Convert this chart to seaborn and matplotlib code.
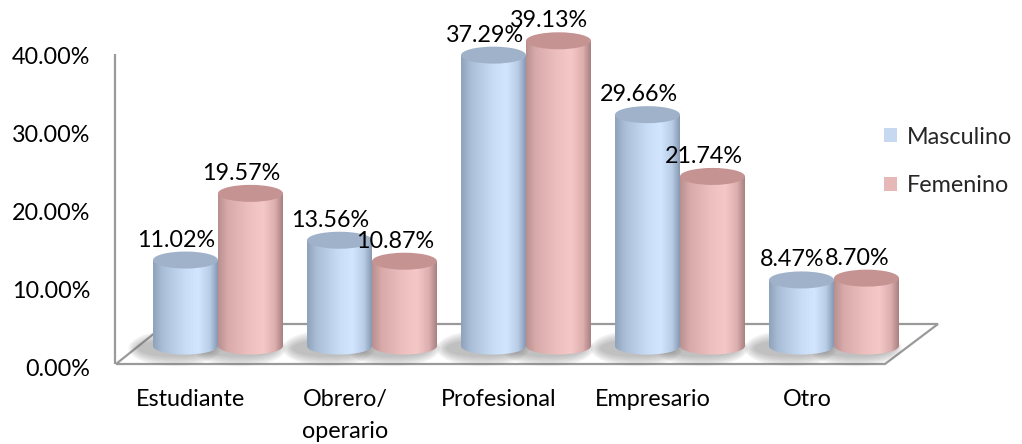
import numpy as np
import pandas as pd
import matplotlib
matplotlib.use("Agg")
import matplotlib.pyplot as plt
import seaborn as sns
from matplotlib.patches import Ellipse, Polygon, Patch
from matplotlib.colors import LinearSegmentedColormap
from matplotlib.transforms import ScaledTranslation, blended_transform_factory

# ---- data -------------------------------------------------------------
ocupaciones = ["Estudiante", "Obrero/\noperario", "Profesional", "Empresario", "Otro"]
sexos = ["Masculino", "Femenino"]
masculino = [11.02, 13.56, 37.29, 29.66, 8.47]
femenino = [19.57, 10.87, 39.13, 21.74, 8.70]
y_ticks = [0, 10, 20, 30, 40]

df = pd.DataFrame({
    "Ocupación": ocupaciones * 2,
    "Sexo": [sexos[0]] * len(ocupaciones) + [sexos[1]] * len(ocupaciones),
    "Porcentaje": masculino + femenino,
})

# ---- style ------------------------------------------------------------
sns.set_theme(style="white")
plt.rcParams["font.family"] = ["Lato", "DejaVu Sans"]
FS = 16.8

W, H, DPI = 1022, 444, 100
fig = plt.figure(figsize=(W / DPI, H / DPI), dpi=DPI)
ax = fig.add_axes([0, 0, 1, 1])

legend_colors = {"Masculino": "#c6d9f1", "Femenino": "#e6b9b8"}
body_cmaps = {
    "Masculino": LinearSegmentedColormap.from_list("m", [
        (0.0, "#8ea2bc"), (0.15, "#aabed8"), (0.5, "#c9ddf6"),
        (0.7, "#d2e6ff"), (0.88, "#b8cce6"), (1.0, "#8799b2")]),
    "Femenino": LinearSegmentedColormap.from_list("f", [
        (0.0, "#b88f8f"), (0.15, "#d9aaaa"), (0.5, "#efc0c0"),
        (0.7, "#f5c8c8"), (0.88, "#dcaeae"), (1.0, "#a88080")]),
}
top_colors = {"Masculino": "#9fb2ca", "Femenino": "#c69393"}

sns.barplot(data=df, x="Ocupación", y="Porcentaje", hue="Sexo",
            order=ocupaciones, hue_order=sexos, palette=legend_colors,
            width=0.844, ax=ax, legend=False, saturation=1)
bars = [(sexo, bar) for sexo, cont in zip(sexos, ax.containers) for bar in cont]

# pixel geometry of the plotting area
X0_PX, CAT_PX, BASE_PY, PCT_PX = 218, 154, 346, 7.8


def set_limits():
    ax.set_xlim(-X0_PX / CAT_PX, (W - X0_PX) / CAT_PX)
    ax.set_ylim((BASE_PY - H) / PCT_PX, BASE_PY / PCT_PX)


set_limits()
ax.axis("off")


def px(xp, yp):
    return ((xp - X0_PX) / CAT_PX, (BASE_PY - yp) / PCT_PX)


# floor and left wall edge
floor = Polygon([px(116, 364), px(885, 364), px(938, 324), px(166, 324)],
                closed=True, facecolor="white", edgecolor="#9a9a9a",
                linewidth=1.6, zorder=0.5)
ax.add_patch(floor)
wall_x, wall_y0 = px(115, 364)
_, wall_y1 = px(115, 54)
ax.plot([wall_x, wall_x], [wall_y0, wall_y1], color="#9a9a9a", lw=1.6,
        zorder=0.6, solid_capstyle="butt")

ell_h = 17 / PCT_PX
grad = np.linspace(0, 1, 256).reshape(1, -1)
for sexo, bar in bars:
    x0, w, h = bar.get_x(), bar.get_width(), bar.get_height()
    cx = x0 + w / 2
    bar.set_facecolor("none")
    bar.set_edgecolor("none")

    # soft shadow on the floor
    for k in range(6):
        ax.add_patch(Ellipse((cx - 0.07, -0.3), w * (1.12 + 0.06 * k),
                             ell_h * (1.0 + 0.22 * k), facecolor="#707070",
                             edgecolor="none", alpha=0.09, zorder=0.7))

    # cylinder body
    im = ax.imshow(grad, cmap=body_cmaps[sexo], extent=[x0, x0 + w, 0, h],
                   aspect="auto", interpolation="bilinear", zorder=2, origin="lower")
    im.set_clip_path(bar)
    # rounded base
    base = Ellipse((cx, 0), w, ell_h, facecolor="none", edgecolor="none")
    ax.add_patch(base)
    im2 = ax.imshow(grad, cmap=body_cmaps[sexo],
                    extent=[x0, x0 + w, -ell_h, 0.01], aspect="auto",
                    interpolation="bilinear", zorder=2, origin="lower")
    im2.set_clip_path(base)
    # top cap
    ax.add_patch(Ellipse((cx, h), w, ell_h, facecolor=top_colors[sexo],
                         edgecolor="none", zorder=3))
    # value label
    ax.annotate(f"{h:.2f}%", (cx, h), xytext=(-9, 20), textcoords="offset pixels",
                ha="center", va="center", fontsize=FS, color="black", zorder=5)

set_limits()

# y tick labels (front plane of the box)
ytrans = blended_transform_factory(fig.transFigure, ax.transData) + \
    ScaledTranslation(0, -24 / DPI, fig.dpi_scale_trans)
for t in y_ticks:
    ax.text(90 / W, t, f"{t:.2f}%", transform=ytrans, ha="right", va="center",
            fontsize=FS, color="black")

# category labels
xtrans = blended_transform_factory(ax.transData, fig.transFigure) + \
    ScaledTranslation(-27 / DPI, 0, fig.dpi_scale_trans)
for i, lab in enumerate(ocupaciones):
    ax.text(i, 1 - 389 / H, lab, transform=xtrans, ha="center", va="top",
            fontsize=FS, color="black", linespacing=1.62, multialignment="center")

handles = [Patch(facecolor=legend_colors[s], edgecolor="none", label=s) for s in sexos]
fig.legend(handles=handles, loc="center left", bbox_to_anchor=(884 / W, 1 - 161.5 / H),
           frameon=False, fontsize=FS, handlelength=0.55, handleheight=0.55,
           handletextpad=0.42, labelspacing=1.2, borderpad=0, borderaxespad=0)

fig.savefig("out.png", dpi=DPI)
